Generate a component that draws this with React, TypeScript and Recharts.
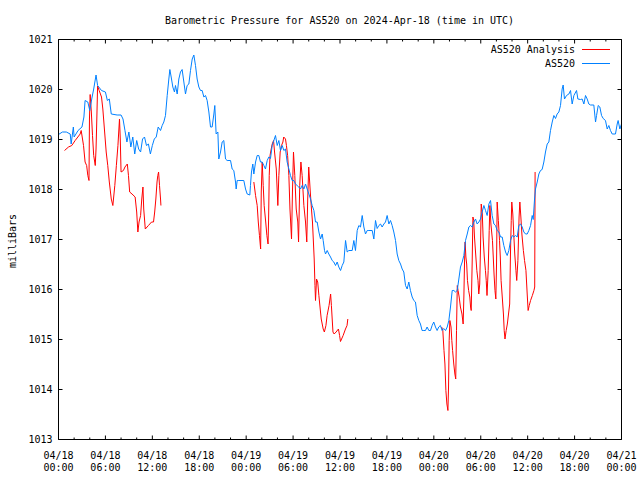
import React from 'react';
import { LineChart, Line, XAxis, YAxis } from 'recharts';

// ---- data (hours since 2024-04-18 00:00 UTC, millibars) ----
const blueHours = [
  0.0, 0.5, 1.0, 1.5, 1.62, 1.9, 2.0, 2.5, 3.0, 3.25, 3.4, 3.75, 4.0, 4.25, 4.5, 4.8, 5.0, 5.5, 6.0, 6.25,
  6.5, 6.75, 7.5, 8.0, 8.25, 8.5, 8.75, 9.0, 9.25, 9.5, 9.75, 10.0, 10.25, 10.5, 10.75, 11.0, 11.25, 11.5, 11.75, 12.0,
  12.25, 12.5, 12.75, 13.05, 13.26, 13.47, 13.68, 13.9, 14.11, 14.24, 14.41, 14.62, 14.83, 14.96, 15.18, 15.39, 15.6, 15.81, 16.03, 16.24,
  16.45, 16.67, 16.88, 17.1, 17.31, 17.52, 17.73, 17.95, 18.16, 18.37, 18.59, 18.8, 19.01, 19.23, 19.44, 19.65, 19.87, 19.99, 20.16, 20.38,
  20.5, 20.72, 20.93, 21.14, 21.36, 21.57, 22.0, 22.21, 22.42, 22.64, 22.72, 22.85, 23.06, 23.7, 23.92, 24.13, 24.47, 24.55, 24.68, 24.85,
  24.98, 25.2, 25.41, 25.62, 25.83, 26.05, 26.26, 26.47, 26.69, 26.9, 27.11, 27.33, 27.54, 27.75, 27.97, 28.18, 28.39, 28.61, 28.82, 29.03,
  29.24, 29.46, 29.67, 29.88, 30.1, 30.31, 30.52, 30.73, 30.95, 31.16, 31.38, 31.59, 31.8, 32.02, 32.23, 32.44, 32.66, 32.87, 33.08, 33.3,
  33.51, 33.72, 33.85, 34.02, 34.15, 34.36, 34.57, 34.79, 35.0, 35.21, 35.43, 35.64, 35.85, 36.07, 36.28, 36.49, 36.71, 36.92, 37.13, 37.56,
  37.77, 37.98, 38.2, 38.41, 38.62, 38.84, 39.05, 39.26, 39.48, 39.69, 40.12, 40.33, 40.54, 40.75, 40.97, 41.18, 41.39, 41.61, 41.82, 42.03,
  42.25, 42.46, 42.67, 42.88, 43.1, 43.31, 43.52, 43.74, 43.95, 44.16, 44.38, 44.59, 44.8, 45.01, 45.23, 45.44, 45.65, 45.87, 46.08, 46.29,
  46.5, 46.72, 46.93, 47.14, 47.36, 47.57, 47.78, 47.99, 48.21, 48.42, 48.63, 48.84, 49.06, 49.27, 49.5, 49.71, 49.92, 50.13, 50.35, 50.56,
  50.77, 50.99, 51.2, 51.41, 51.63, 51.84, 52.05, 52.27, 52.48, 52.69, 52.9, 53.12, 53.33, 53.54, 53.76, 53.97, 54.18, 54.4, 54.61, 54.82,
  55.04, 55.25, 55.46, 55.68, 55.89, 56.1, 56.32, 56.53, 56.74, 56.95, 57.17, 57.38, 57.59, 57.81, 58.02, 58.23, 58.45, 58.66, 58.87, 59.09,
  59.3, 59.51, 59.73, 59.94, 60.15, 60.37, 60.58, 60.71, 60.88, 61.0, 61.22, 61.43, 61.64, 61.85, 62.07, 62.28, 62.5, 62.71, 62.92, 63.14,
  63.35, 63.56, 63.77, 63.99, 64.2, 64.41, 64.54, 64.71, 64.97, 65.27, 65.48, 65.69, 65.91, 66.25, 66.42, 66.76, 66.97, 67.19, 67.4, 67.61,
  67.82, 68.04, 68.46, 68.68, 68.81, 69.02, 69.23, 69.45, 69.66, 69.95, 70.17, 70.38, 70.59, 70.81, 71.23, 71.45, 71.57, 71.79, 72.0,
];
const blueValues = [
  1019.10, 1019.15, 1019.15, 1019.11, 1018.91, 1019.25, 1019.05, 1019.18, 1019.25, 1019.45, 1019.78, 1019.75, 1019.58, 1019.81, 1020.01, 1020.29, 1020.08, 1019.98, 1019.95, 1019.78,
  1019.81, 1019.51, 1019.49, 1019.49, 1019.41, 1019.18, 1018.95, 1019.15, 1018.85, 1019.05, 1018.71, 1018.98, 1018.81, 1018.75, 1019.01, 1019.05, 1018.88, 1018.91, 1018.71, 1018.88,
  1019.01, 1019.05, 1019.25, 1019.18, 1019.28, 1019.35, 1019.48, 1019.88, 1020.21, 1020.40, 1020.25, 1020.05, 1019.95, 1020.08, 1019.91, 1020.21, 1020.35, 1020.40, 1020.15, 1019.91,
  1020.08, 1020.11, 1020.38, 1020.61, 1020.69, 1020.48, 1020.21, 1020.05, 1019.98, 1019.98, 1019.85, 1019.88, 1019.78, 1019.55, 1019.25, 1019.25, 1019.51, 1019.68, 1019.11, 1019.15,
  1018.61, 1018.75, 1018.95, 1018.98, 1018.61, 1018.58, 1018.58, 1018.41, 1018.38, 1018.15, 1018.01, 1018.18, 1018.18, 1018.18, 1018.01, 1017.91, 1017.89, 1018.08, 1018.35, 1018.51,
  1018.31, 1018.55, 1018.68, 1018.68, 1018.55, 1018.55, 1018.48, 1018.41, 1018.58, 1018.65, 1018.62, 1018.88, 1018.98, 1019.08, 1018.88, 1018.98, 1018.78, 1018.88, 1018.78, 1018.81,
  1018.55, 1018.41, 1018.28, 1018.18, 1018.18, 1018.11, 1018.08, 1018.05, 1018.01, 1018.08, 1018.01, 1018.11, 1018.01, 1017.91, 1017.81, 1017.68, 1017.58, 1017.35, 1017.35, 1017.15,
  1017.01, 1017.11, 1016.98, 1016.78, 1016.71, 1016.78, 1016.71, 1016.65, 1016.58, 1016.55, 1016.48, 1016.55, 1016.45, 1016.38, 1016.48, 1016.55, 1016.98, 1016.75, 1016.78, 1016.78,
  1016.98, 1016.78, 1017.18, 1017.28, 1017.25, 1017.48, 1017.25, 1017.11, 1017.18, 1017.18, 1017.18, 1017.01, 1017.38, 1017.22, 1017.28, 1017.31, 1017.25, 1017.31, 1017.35, 1017.48,
  1017.31, 1017.38, 1017.28, 1017.15, 1016.98, 1016.71, 1016.58, 1016.51, 1016.41, 1016.35, 1016.08, 1016.01, 1016.15, 1015.98, 1015.85, 1015.78, 1015.75, 1015.48, 1015.38, 1015.31,
  1015.18, 1015.18, 1015.18, 1015.25, 1015.18, 1015.18, 1015.28, 1015.35, 1015.25, 1015.18, 1015.25, 1015.28, 1015.18, 1015.22, 1015.18, 1015.25, 1015.38, 1015.65, 1015.98, 1015.98,
  1015.95, 1015.98, 1016.21, 1016.45, 1016.55, 1016.68, 1016.98, 1017.11, 1017.25, 1017.28, 1017.25, 1017.35, 1017.41, 1017.31, 1017.35, 1017.41, 1017.55, 1017.68, 1017.58, 1017.48,
  1017.71, 1017.78, 1017.48, 1017.31, 1017.28, 1017.18, 1017.15, 1017.05, 1017.05, 1016.88, 1016.75, 1016.68, 1016.78, 1016.98, 1017.08, 1017.05, 1017.08, 1017.05, 1017.28, 1017.31,
  1017.25, 1017.15, 1017.11, 1017.11, 1017.18, 1017.28, 1017.48, 1017.40, 1017.81, 1018.01, 1018.15, 1018.31, 1018.38, 1018.40, 1018.55, 1018.75, 1018.91, 1018.95, 1019.18, 1019.35,
  1019.48, 1019.42, 1019.51, 1019.55, 1019.68, 1020.01, 1020.09, 1019.81, 1019.88, 1019.91, 1019.98, 1019.71, 1019.88, 1019.98, 1019.81, 1019.80, 1019.81, 1019.71, 1019.88, 1019.81,
  1019.71, 1019.69, 1019.69, 1019.35, 1019.48, 1019.68, 1019.65, 1019.48, 1019.42, 1019.38, 1019.21, 1019.28, 1019.18, 1019.11, 1019.11, 1019.31, 1019.38, 1019.21, 1019.31,
];

const redHours = [
  0.77, 1.28, 1.7, 2.13, 2.77, 2.9, 3.2, 3.4, 3.6, 3.75, 3.9, 3.96, 4.05, 4.2, 4.35, 4.5, 4.7, 4.8, 4.9, 5.0,
  5.2, 5.5, 5.67, 5.9, 6.1, 6.3, 6.5, 6.75, 6.95, 7.2, 7.4, 7.6, 7.8, 7.9, 8.0, 8.3, 8.5, 8.8, 8.95, 9.1,
  9.4, 9.8, 10.0, 10.15, 10.3, 10.5, 10.65, 10.8, 10.9, 11.1, 11.5, 11.9, 12.15, 12.3, 12.45, 12.6, 12.7, 12.8, 12.92, 13.05,
  13.1, 19.0,
  24.98, 25.2, 25.41, 25.55, 25.7, 25.85, 25.93, 26.05, 26.18, 26.3, 26.5, 26.65, 26.8, 26.87, 26.95, 27.05, 27.2, 27.33, 27.5, 27.63,
  27.85, 28.05, 28.18, 28.35, 28.52, 28.7, 28.8, 29.03, 29.15, 29.3, 29.46, 29.6, 29.8, 29.92, 30.05, 30.22, 30.4, 30.6, 30.7, 30.85,
  31.0, 31.16, 31.38, 31.59, 31.75, 31.87, 32.0, 32.2, 32.35, 32.48, 32.6, 32.7, 32.8, 32.87, 33.0, 33.15, 33.3, 33.47, 33.6, 33.85,
  34.0, 34.2, 34.35, 34.6, 34.8, 34.9, 35.1, 35.25, 35.5, 35.8, 35.95, 36.06, 36.4, 36.7, 36.9, 37.0, 43.0,
  49.0, 49.15, 49.3, 49.42, 49.54, 49.67, 49.8, 49.88, 49.96, 50.05, 50.2, 50.3, 50.4, 50.55, 50.69, 50.8, 50.9, 51.0, 51.1, 51.24,
  51.4, 51.6, 51.75, 51.84, 51.92, 52.0, 52.1, 52.2, 52.3, 52.45, 52.6, 52.7, 52.78, 52.9, 53.0, 53.1, 53.2, 53.35, 53.5, 53.65,
  53.75, 53.87, 53.97, 54.06, 54.2, 54.3, 54.45, 54.6, 54.7, 54.8, 54.95, 55.08, 55.17, 55.3, 55.5, 55.6, 55.7, 55.82, 55.93, 56.02,
  56.1, 56.25, 56.4, 56.5, 56.6, 56.75, 56.9, 57.0, 57.1, 57.25, 57.4, 57.55, 57.7, 57.8, 57.9, 57.97, 58.1, 58.24, 58.35, 58.5,
  58.6, 58.75, 58.9, 59.0, 59.13, 59.26, 59.45, 59.6, 59.78, 59.94, 60.06, 60.2, 60.37, 60.6, 60.8, 60.9, 60.95,
];
const redValues: (number | null)[] = [
  1018.78, 1018.85, 1018.88, 1018.98, 1019.11, 1019.18, 1018.88, 1018.55, 1018.48, 1018.28, 1018.18, 1019.41, 1019.90, 1019.55, 1019.08, 1018.68, 1018.48, 1018.81, 1019.41, 1020.07,
  1019.98, 1019.85, 1019.61, 1019.15, 1018.75, 1018.48, 1018.15, 1017.81, 1017.68, 1018.08, 1018.48, 1018.88, 1019.41, 1019.01, 1018.35, 1018.38, 1018.45, 1018.51, 1018.28, 1017.95,
  1017.91, 1017.85, 1017.55, 1017.15, 1017.35, 1017.48, 1017.81, 1018.05, 1017.61, 1017.21, 1017.28, 1017.35, 1017.35, 1017.55, 1017.81, 1018.15, 1018.28, 1018.35, 1018.08, 1017.81,
  1017.68, null,
  1018.15, 1017.88, 1017.68, 1017.35, 1017.08, 1016.81, 1017.95, 1018.55, 1018.08, 1017.68, 1017.35, 1017.08, 1016.91, 1017.41, 1018.28, 1018.68, 1018.81, 1018.91, 1018.98, 1018.75,
  1018.41, 1017.68, 1018.28, 1018.75, 1018.88, 1018.95, 1019.05, 1019.01, 1018.88, 1018.68, 1018.28, 1017.61, 1017.01, 1017.95, 1018.75, 1018.28, 1017.61, 1017.35, 1016.95, 1018.08,
  1018.55, 1018.28, 1017.68, 1017.35, 1016.95, 1017.81, 1018.45, 1017.95, 1017.61, 1017.35, 1016.95, 1016.61, 1016.08, 1015.78, 1016.21, 1016.15, 1015.88, 1015.61, 1015.41, 1015.21,
  1015.15, 1015.28, 1015.48, 1015.68, 1015.91, 1015.68, 1015.15, 1015.11, 1015.15, 1015.21, 1015.08, 1014.96, 1015.08, 1015.21, 1015.28, 1015.41, null,
  1015.25, 1015.18, 1014.78, 1014.51, 1013.98, 1013.71, 1013.58, 1014.05, 1014.98, 1015.38, 1015.25, 1014.98, 1014.78, 1014.51, 1014.31, 1014.21, 1015.18, 1016.08, 1015.98, 1015.85,
  1015.65, 1015.51, 1015.31, 1015.85, 1016.51, 1016.95, 1016.65, 1016.51, 1016.18, 1015.98, 1015.85, 1015.65, 1015.58, 1016.51, 1017.45, 1017.38, 1017.05, 1016.71, 1016.38, 1016.18,
  1015.91, 1016.11, 1016.85, 1017.71, 1017.51, 1017.05, 1016.65, 1016.38, 1016.18, 1015.88, 1016.38, 1017.18, 1017.68, 1017.31, 1016.98, 1016.65, 1016.31, 1015.98, 1015.81, 1016.51,
  1017.75, 1017.38, 1016.98, 1016.65, 1016.18, 1015.85, 1015.51, 1015.18, 1015.01, 1015.18, 1015.31, 1015.51, 1015.71, 1016.71, 1017.38, 1017.75, 1017.51, 1017.05, 1016.71, 1016.38,
  1016.18, 1016.58, 1017.45, 1017.75, 1017.45, 1017.11, 1016.78, 1016.58, 1016.38, 1015.91, 1015.58, 1015.68, 1015.78, 1015.88, 1015.98, 1016.05, 1018.35,
];

const xMajorHours = [0, 6, 12, 18, 24, 30, 36, 42, 48, 54, 60, 66, 72];
const xTickDates = ['04/18', '04/18', '04/18', '04/18', '04/19', '04/19', '04/19', '04/19', '04/20', '04/20', '04/20', '04/20', '04/21'];
const xTickTimes = ['00:00', '06:00', '12:00', '18:00', '00:00', '06:00', '12:00', '18:00', '00:00', '06:00', '12:00', '18:00', '00:00'];
const xMinorHours = [0, 2, 4, 6, 8, 10, 12, 14, 16, 18, 20, 22, 24, 26, 28, 30, 32, 34, 36, 38, 40, 42, 44, 46, 48, 50, 52, 54, 56, 58, 60, 62, 64, 66, 68, 70, 72];
const yTicks = [1013, 1014, 1015, 1016, 1017, 1018, 1019, 1020, 1021];

const titleText = 'Barometric Pressure for AS520 on 2024-Apr-18 (time in UTC)';
const yLabelText = 'milliBars';
const redName = 'AS520 Analysis';
const blueName = 'AS520';
const RED = '#ff0000';
const BLUE = '#0080ff';
const FONT = "'DejaVu Sans Mono', 'Liberation Mono', monospace";

const blueData = blueHours.map((t, i) => ({ t, v: blueValues[i] }));
const redData = redHours.map((t, i) => ({ t, v: redValues[i] }));

const MAJOR_LEN = 4;
const MINOR_LEN = 2;

function BottomTick(props: any) {
  const { x, y, payload } = props;
  const i = xMajorHours.indexOf(payload.value);
  const major = i >= 0;
  return (
    <g>
      <line x1={x} x2={x} y1={y} y2={y - (major ? MAJOR_LEN : MINOR_LEN)} stroke="#000" strokeWidth={1} />
      {major && (
        <text x={x} y={y + 19.5} textAnchor="middle" fontFamily={FONT} fontSize={10} fill="#000">
          {xTickDates[i]}
        </text>
      )}
      {major && (
        <text x={x} y={y + 31.5} textAnchor="middle" fontFamily={FONT} fontSize={10} fill="#000">
          {xTickTimes[i]}
        </text>
      )}
    </g>
  );
}

function TopTick(props: any) {
  const { x, y, payload } = props;
  const major = xMajorHours.indexOf(payload.value) >= 0;
  return <line x1={x} x2={x} y1={y} y2={y + (major ? MAJOR_LEN : MINOR_LEN)} stroke="#000" strokeWidth={1} />;
}

function LeftTick(props: any) {
  const { x, y, payload } = props;
  return (
    <g>
      <line x1={x} x2={x + MAJOR_LEN} y1={y} y2={y} stroke="#000" strokeWidth={1} />
      <text x={x - 6} y={y + 3.5} textAnchor="end" fontFamily={FONT} fontSize={10} fill="#000">
        {payload.value}
      </text>
    </g>
  );
}

function RightTick(props: any) {
  const { x, y } = props;
  return <line x1={x} x2={x - MAJOR_LEN} y1={y} y2={y} stroke="#000" strokeWidth={1} />;
}

export default function App() {
  return (
    <div style={{ position: 'absolute', left: 0, top: 0, width: 640, height: 480, background: '#fff' }}>
      <LineChart
        width={640}
        height={480}
        margin={{ top: 38.5, right: 17.5, bottom: 39.5, left: 57.5 }}
      >
        <XAxis
          xAxisId="bottom"
          orientation="bottom"
          type="number"
          dataKey="t"
          domain={[0, 72]}
          allowDataOverflow
          ticks={xMinorHours}
          interval={0}
          height={1}
          tickSize={0}
          tickMargin={0}
          tickLine={false}
          tick={<BottomTick />}
          axisLine={{ stroke: '#000', strokeWidth: 1 }}
        />
        <XAxis
          xAxisId="top"
          orientation="top"
          type="number"
          dataKey="t"
          domain={[0, 72]}
          allowDataOverflow
          ticks={xMinorHours}
          interval={0}
          height={1}
          tickSize={0}
          tickMargin={0}
          tickLine={false}
          tick={<TopTick />}
          axisLine={{ stroke: '#000', strokeWidth: 1 }}
        />
        <YAxis
          yAxisId="left"
          orientation="left"
          type="number"
          domain={[1013, 1021]}
          allowDataOverflow
          ticks={yTicks}
          interval={0}
          width={1}
          tickSize={0}
          tickMargin={0}
          tickLine={false}
          tick={<LeftTick />}
          axisLine={{ stroke: '#000', strokeWidth: 1 }}
        />
        <YAxis
          yAxisId="right"
          orientation="right"
          type="number"
          domain={[1013, 1021]}
          allowDataOverflow
          ticks={yTicks}
          interval={0}
          width={1}
          tickSize={0}
          tickMargin={0}
          tickLine={false}
          tick={<RightTick />}
          axisLine={{ stroke: '#000', strokeWidth: 1 }}
        />
        <Line
          xAxisId="bottom"
          yAxisId="left"
          data={redData}
          dataKey="v"
          name={redName}
          type="linear"
          stroke={RED}
          strokeWidth={1}
          dot={false}
          activeDot={false}
          connectNulls={false}
          isAnimationActive={false}
        />
        <Line
          xAxisId="bottom"
          yAxisId="left"
          data={blueData}
          dataKey="v"
          name={blueName}
          type="linear"
          stroke={BLUE}
          strokeWidth={1}
          dot={false}
          activeDot={false}
          isAnimationActive={false}
        />
      </LineChart>
      <svg
        width={640}
        height={480}
        style={{ position: 'absolute', left: 0, top: 0, pointerEvents: 'none' }}
      >
        <text x={339.5} y={23.5} textAnchor="middle" fontFamily={FONT} fontSize={10} fill="#000">
          {titleText}
        </text>
        <text
          transform="translate(16, 241) rotate(-90)"
          textAnchor="middle"
          fontFamily={FONT}
          fontSize={10}
          fill="#000"
        >
          {yLabelText}
        </text>
        <text x={575} y={52.5} textAnchor="end" fontFamily={FONT} fontSize={10} fill="#000">
          {redName}
        </text>
        <line x1={582} x2={610} y1={49.5} y2={49.5} stroke={RED} strokeWidth={1} />
        <text x={575} y={66.5} textAnchor="end" fontFamily={FONT} fontSize={10} fill="#000">
          {blueName}
        </text>
        <line x1={582} x2={610} y1={63.5} y2={63.5} stroke={BLUE} strokeWidth={1} />
      </svg>
    </div>
  );
}
